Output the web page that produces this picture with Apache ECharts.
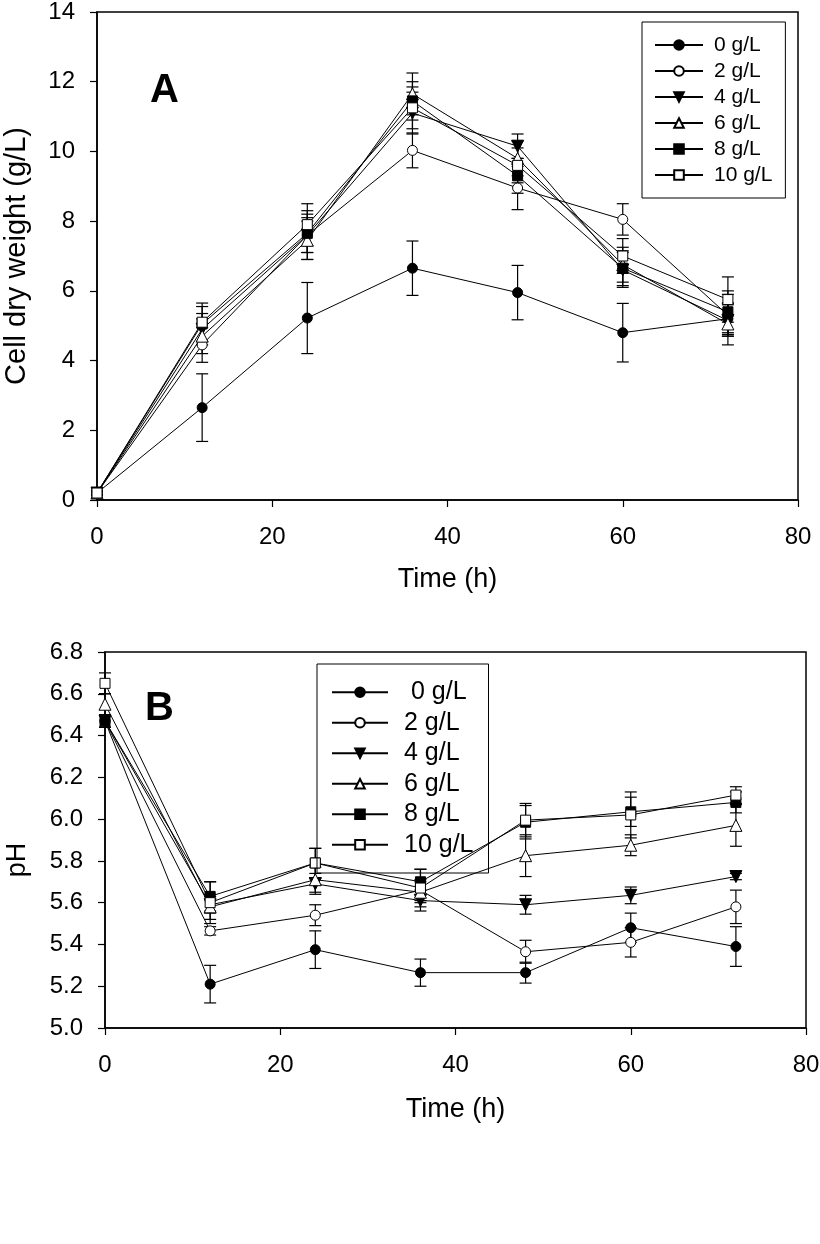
<!DOCTYPE html>
<html>
<head>
<meta charset="utf-8">
<script src="https://cdn.jsdelivr.net/npm/echarts@6/dist/echarts.min.js"></script>
<style>
  html, body { margin: 0; padding: 0; background: #fff; }
  #main { width: 820px; height: 1244px; }
</style>
</head>
<body>
<div id="main"></div>
<script>
// sampling times (h)
let times = [0, 12, 24, 36, 48, 60, 72];
let names = ['0 g/L', '2 g/L', '4 g/L', '6 g/L', '8 g/L', '10 g/L'];

// panel A: cell dry weight (g/L)
let cdw0 = [0.2, 2.65, 5.22, 6.65, 5.95, 4.8, 5.2];
let cdw2 = [0.2, 4.45, 7.6, 10.03, 8.95, 8.05, 5.3];
let cdw4 = [0.2, 4.9, 7.6, 11.1, 10.15, 6.6, 5.15];
let cdw6 = [0.2, 4.7, 7.45, 11.65, 9.8, 6.75, 5.05];
let cdw8 = [0.2, 5.05, 7.65, 11.45, 9.3, 6.65, 5.4];
let cdw10 = [0.2, 5.1, 7.9, 11.25, 9.6, 7.0, 5.75];
let cdwErr0 = [0.05, 0.97, 1.02, 0.78, 0.78, 0.84, 0.45];
let cdwErr2 = [0.05, 0.5, 0.7, 0.5, 0.62, 0.45, 0.6];
let cdwErr4 = [0.05, 0.45, 0.5, 0.6, 0.35, 0.5, 0.45];
let cdwErr6 = [0.05, 0.5, 0.55, 0.6, 0.5, 0.5, 0.6];
let cdwErr8 = [0.05, 0.5, 0.55, 0.55, 0.5, 0.5, 0.6];
let cdwErr10 = [0.05, 0.55, 0.6, 0.6, 0.5, 0.5, 0.65];

// panel B: pH
let ph0 = [6.47, 5.21, 5.375, 5.265, 5.265, 5.48, 5.39];
let ph2 = [6.47, 5.465, 5.54, 5.66, 5.365, 5.41, 5.58];
let ph4 = [6.47, 5.59, 5.69, 5.61, 5.59, 5.635, 5.725];
let ph6 = [6.55, 5.58, 5.71, 5.65, 5.825, 5.875, 5.97];
let ph8 = [6.47, 5.63, 5.79, 5.70, 5.985, 6.035, 6.08];
let ph10 = [6.65, 5.60, 5.79, 5.67, 5.995, 6.02, 6.115];
let phErr0 = [0.03, 0.09, 0.09, 0.065, 0.05, 0.07, 0.095];
let phErr2 = [0.03, 0.02, 0.05, 0.05, 0.055, 0.07, 0.08];
let phErr4 = [0.03, 0.04, 0.05, 0.05, 0.045, 0.04, 0.015];
let phErr6 = [0.05, 0.06, 0.06, 0.05, 0.1, 0.05, 0.1];
let phErr8 = [0.03, 0.07, 0.07, 0.06, 0.08, 0.07, 0.05];
let phErr10 = [0.05, 0.1, 0.07, 0.09, 0.08, 0.11, 0.04];

let cdwSets = [cdw0, cdw2, cdw4, cdw6, cdw8, cdw10];
let cdwErrSets = [cdwErr0, cdwErr2, cdwErr4, cdwErr6, cdwErr8, cdwErr10];
let phSets = [ph0, ph2, ph4, ph6, ph8, ph10];
let phErrSets = [phErr0, phErr2, phErr4, phErr6, phErr8, phErr10];

const FONT = 'Liberation Sans';
const downTri = 'path://M0,0 L10,0 L5,9 Z';
// marker styles: filled / open pairs
let markers = [
    { symbol: 'circle', size: 10, fill: '#000' },
    { symbol: 'circle', size: 10, fill: '#fff' },
    { symbol: downTri, size: 12, fill: '#000' },
    { symbol: 'triangle', size: 12, fill: '#fff' },
    { symbol: 'rect', size: 10, fill: '#000' },
    { symbol: 'rect', size: 10, fill: '#fff' }
];

function errorBars(idx, sets, errs) {
    let data = [];
    sets.forEach(function (s, k) {
        s.forEach(function (v, i) {
            data.push([times[i], v, errs[k][i]]);
        });
    });
    return {
        type: 'custom',
        xAxisIndex: idx,
        yAxisIndex: idx,
        z: 1,
        silent: true,
        data: data,
        renderItem: function (params, api) {
            let x = api.value(0), y = api.value(1), e = api.value(2);
            let hi = api.coord([x, y + e]);
            let lo = api.coord([x, y - e]);
            let w = 6;
            let style = { stroke: '#000', lineWidth: 1.2 };
            return {
                type: 'group',
                children: [
                    { type: 'line', shape: { x1: hi[0], y1: hi[1], x2: lo[0], y2: lo[1] }, style: style },
                    { type: 'line', shape: { x1: hi[0] - w, y1: hi[1], x2: hi[0] + w, y2: hi[1] }, style: style },
                    { type: 'line', shape: { x1: lo[0] - w, y1: lo[1], x2: lo[0] + w, y2: lo[1] }, style: style }
                ]
            };
        }
    };
}

function lineSeries(idx, sets) {
    return sets.map(function (s, k) {
        let m = markers[k];
        return {
            name: names[k],
            type: 'line',
            xAxisIndex: idx,
            yAxisIndex: idx,
            z: 3,
            symbol: m.symbol,
            symbolSize: m.size,
            showAllSymbol: true,
            data: s.map(function (v, i) { return [times[i], v]; }),
            lineStyle: { color: '#000', width: 1 },
            itemStyle: { color: m.fill, borderColor: '#000', borderWidth: 1 },
            emphasis: { disabled: true }
        };
    });
}

function xAxis(idx, gap) {
    return {
        type: 'value', gridIndex: idx, min: 0, max: 80, interval: 20,
        name: 'Time (h)', nameLocation: 'middle', nameGap: gap,
        nameTextStyle: { fontFamily: FONT, fontSize: 27, color: '#000' },
        axisLine: { lineStyle: { color: '#000', width: 1.5 } },
        axisTick: { inside: false, length: 7, lineStyle: { color: '#000', width: 1.2 } },
        axisLabel: { fontFamily: FONT, fontSize: 24, color: '#000', margin: 25 },
        splitLine: { show: false }
    };
}

let myChart = echarts.init(document.getElementById('main'), null, { renderer: 'canvas' });
let option = {
    animation: false,
    backgroundColor: '#fff',
    title: [
        { text: 'A', left: 145, top: 66, textStyle: { fontFamily: FONT, fontSize: 40, fontWeight: 'bold', color: '#000' } },
        { text: 'B', left: 140, top: 684, textStyle: { fontFamily: FONT, fontSize: 40, fontWeight: 'bold', color: '#000' } }
    ],
    grid: [
        { left: 97, top: 12, right: 22, height: 488, show: true, borderColor: '#000', borderWidth: 1.5, outerBoundsMode: 'none' },
        { left: 105, top: 652, right: 14, height: 376, show: true, borderColor: '#000', borderWidth: 1.5, outerBoundsMode: 'none' }
    ],
    legend: [
        {
            data: names, orient: 'vertical', left: 642, top: 22,
            padding: [10, 13, 10, 12], itemGap: 0, itemWidth: 48, itemHeight: 12,
            borderColor: '#000', borderWidth: 1, selectedMode: false,
            textStyle: { fontFamily: FONT, fontSize: 21, color: '#000', lineHeight: 26, padding: [0, 0, 0, 6] }
        },
        {
            data: names, orient: 'vertical', left: 317, top: 664,
            padding: [13, 15, 13, 14], itemGap: 0, itemWidth: 56, itemHeight: 12,
            borderColor: '#000', borderWidth: 1, selectedMode: false,
            formatter: function (n) { return n === '0 g/L' ? ' ' + n : n; },
            textStyle: { fontFamily: FONT, fontSize: 25, color: '#000', lineHeight: 30.5, padding: [0, 0, 0, 11] }
        }
    ],
    xAxis: [xAxis(0, 66), xAxis(1, 68)],
    yAxis: [
        {
            type: 'value', gridIndex: 0, min: 0, max: 14, interval: 2,
            name: 'Cell dry weight (g/L)', nameLocation: 'middle', nameGap: 66,
            nameTextStyle: { fontFamily: FONT, fontSize: 29, color: '#000' },
            axisLine: { lineStyle: { color: '#000', width: 1.5 } },
            axisTick: { inside: false, length: 7, lineStyle: { color: '#000', width: 1.2 } },
            axisLabel: { fontFamily: FONT, fontSize: 24, color: '#000', margin: 22 },
            splitLine: { show: false }
        },
        {
            type: 'value', gridIndex: 1, min: 5.0, max: 6.8, interval: 0.2,
            name: 'pH', nameLocation: 'middle', nameGap: 74,
            nameTextStyle: { fontFamily: FONT, fontSize: 27, color: '#000', padding: [0, 40, 0, 0] },
            axisLine: { lineStyle: { color: '#000', width: 1.5 } },
            axisTick: { inside: false, length: 7, lineStyle: { color: '#000', width: 1.2 } },
            axisLabel: { fontFamily: FONT, fontSize: 24, color: '#000', margin: 22, formatter: function (v) { return v.toFixed(1); } },
            splitLine: { show: false }
        }
    ],
    series: [].concat(
        [errorBars(0, cdwSets, cdwErrSets)],
        lineSeries(0, cdwSets),
        [errorBars(1, phSets, phErrSets)],
        lineSeries(1, phSets)
    )
};
myChart.setOption(option);
</script>
</body>
</html>
